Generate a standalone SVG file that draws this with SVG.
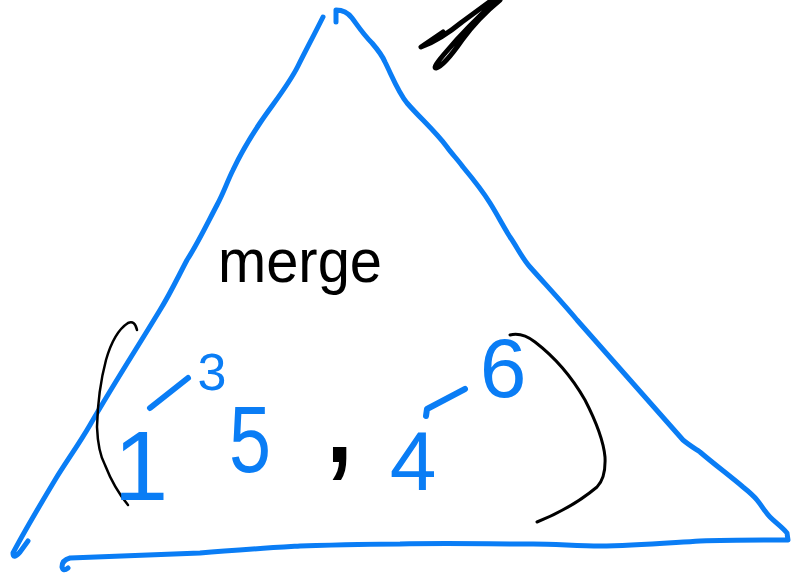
<svg xmlns="http://www.w3.org/2000/svg" width="791" height="574" viewBox="0 0 791 574">
<style>
.blue{fill:none;stroke:#0A7DF5;stroke-linecap:round;stroke-linejoin:round}
.ink{fill:none;stroke:#000;stroke-linecap:round;stroke-linejoin:round}
.bt{fill:#0A7DF5;font-family:"Liberation Sans",Arial,sans-serif;text-anchor:middle}
.kt{fill:#000;font-family:"Liberation Sans",Arial,sans-serif}
</style>
<rect width="791" height="574" fill="#fff"/>
<g id="triangle">
<path class="blue" stroke-width="5" d="M323,17 C314,35 306,50 298,66 C288,86 272,105 260,123 C250,138 241,153 233,170 C227,182 224,192 217,205 C207,224 198,243 187,260 C178,277 170,294 160,310 C137,348 113,385 90,425 C79,444 66,462 55,480 C40,505 25,530 13,553 Q13,560 20,552 L28,541"/>
<path class="blue" stroke-width="5" d="M336,22 L336,10 Q346,10 352,18 C358,26 363,34 372,43 C378,50 382,55 385,62 C392,76 398,92 407,103 C420,118 435,131 447,147 C452,154 458,160 463,167 C473,179 482,190 490,203 C497,214 503,226 510,237 C517,247 522,258 530,267 C546,285 562,302 577,320 C612,360 648,400 683,440 C689,445 694,448 700,452 C714,464 730,476 743,487 C748,491 753,495 757,500 C762,506 765,512 770,517 C776,523 782,527 787,533 L788,540 C760,540 730,540 700,541 C667,543 633,546 600,546 C578,546 555,544 533,544 C489,544 444,543 400,544 C367,544 333,545 300,546 C267,548 233,550 200,553 C157,555 113,556 70,558 Q62,560 62,567 Q63,572 68,568"/>
</g>
<g id="scribble">
<path class="ink" stroke-width="5" d="M443,32 L421,47 Q440,40 462,22 L492,0 M497,0 Q468,26 446,52 Q432,68 436,68 Q444,66 462,40 Q478,18 500,0"/>
</g>
<g id="label-merge">
<text class="kt" x="218" y="282" font-size="62" textLength="164" lengthAdjust="spacingAndGlyphs">merge</text>
</g>
<g id="tuple">
<path class="ink" stroke-width="2.5" d="M137,330 Q135,320 128,323 Q114,332 106,360 Q98,390 97,427 Q98,452 105,465 Q114,488 128,505"/>
<path class="ink" stroke-width="3" d="M510,335 Q522,332 535,342 Q565,365 585,400 Q603,435 605,457 Q606,478 597,487 Q572,508 537,522"/>
<text class="bt" x="141" y="500" font-size="98">1</text>
<path class="blue" stroke-width="6" d="M150,408 L188,378"/>
<text class="bt" x="212" y="390" font-size="52">3</text>
<text class="bt" x="250" y="472" font-size="95" textLength="42" lengthAdjust="spacingAndGlyphs">5</text>
<text class="kt" x="320" y="462" font-size="140">,</text>
<text class="bt" x="413" y="490" font-size="84">4</text>
<path class="blue" stroke-width="6" d="M426,416 L427,409 L465,389"/>
<text class="bt" x="503" y="397" font-size="84">6</text>
</g>
</svg>
